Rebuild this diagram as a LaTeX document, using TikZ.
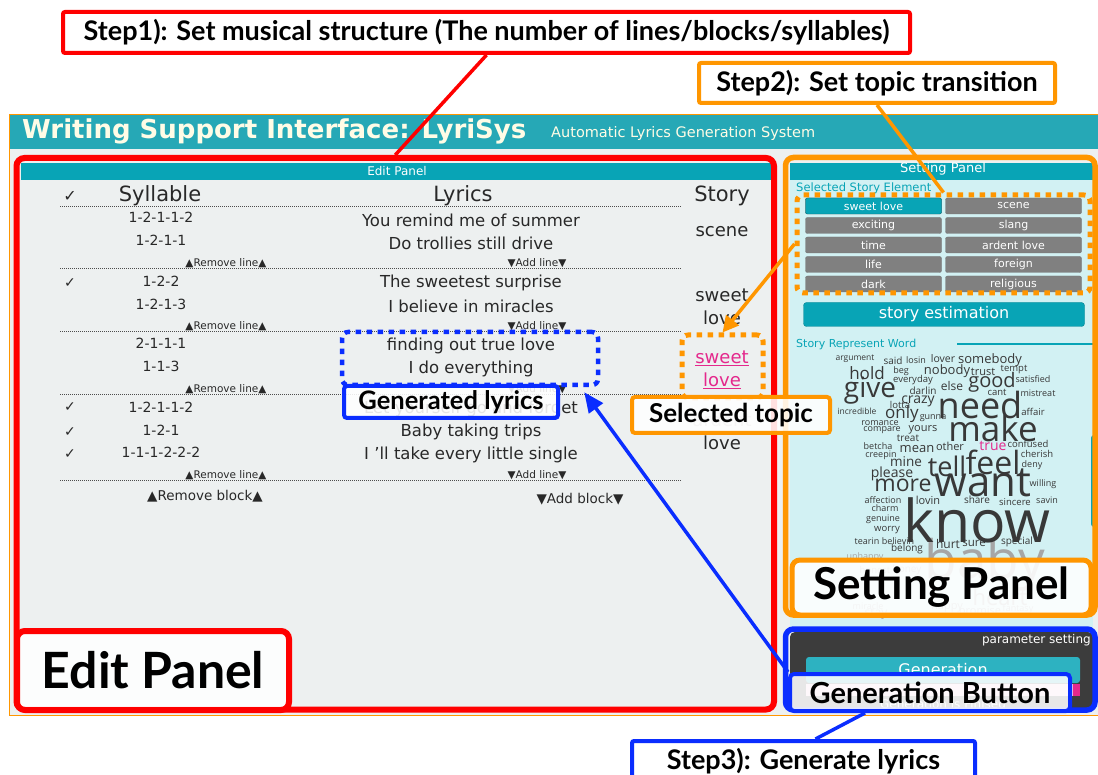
\documentclass[tikz,border=0pt]{standalone}
\usepackage{fontspec}
\usepackage{xcolor}
\usetikzlibrary{arrows.meta,positioning}
\setmainfont{DejaVu Sans}
\newfontfamily\notefont{Lato}
\newfontfamily\cloudfont{Open Sans}
\newcommand{\setfs}[1]{\fontsize{#1}{#1}\selectfont}

\definecolor{markred}{RGB}{255,0,0}
\definecolor{markorange}{RGB}{255,150,0}
\definecolor{markblue}{RGB}{10,45,255}
\definecolor{appteal}{RGB}{38,168,182}
\definecolor{panelteal}{RGB}{8,164,182}
\definecolor{panelgray}{RGB}{237,240,240}
\definecolor{panelcyan}{RGB}{210,241,243}
\definecolor{uitext}{RGB}{40,40,40}
\definecolor{btngray}{RGB}{128,128,128}
\definecolor{pinkword}{RGB}{228,40,140}
\definecolor{darkpanel}{RGB}{60,60,60}
\definecolor{titlecream}{RGB}{255,252,230}

\begin{document}
\begin{tikzpicture}[x=1pt,y=-1pt]
\tikzstyle{note} = [draw, line width=4pt, fill=white, rounded corners=2pt,
inner sep=0pt, font=\notefont\bfseries\setfs{27}]
\tikzstyle{panelbox} = [draw, line width=5.5pt, rounded corners=8pt, inner sep=0pt]
\tikzstyle{bigtag} = [draw, line width=5pt, fill=white, fill opacity=0.88,
text opacity=1, rounded corners=8pt, inner sep=0pt]
\tikzstyle{dotbox} = [draw, line width=5pt, dash pattern=on 5.5pt off 5.5pt,
rounded corners=6pt, inner sep=0pt]
\tikzstyle{ui} = [text=uitext, inner sep=0pt, font=\setfs{16.5}]
\tikzstyle{syl} = [ui, font=\setfs{14}]
\tikzstyle{smallui} = [ui, font=\setfs{10.5}]
\tikzstyle{head} = [ui, font=\setfs{21}]
\tikzstyle{storyword} = [ui, font=\setfs{18}]
\tikzstyle{tagbtn} = [draw=black!55, fill=btngray, rounded corners=2pt,
minimum width=136pt, minimum height=16pt, inner sep=0pt, text=white, font=\setfs{11}]
\tikzstyle{word} = [inner sep=0pt, text=black!78]
\tikzstyle{line} = [draw, line width=3.5pt]

\clip (0,0) rectangle (1098,775);
\fill[white] (0,0) rectangle (1098,775);

% application window
\fill[panelgray] (10,115) rectangle (1098,715);
\fill[appteal] (10,115) rectangle (1098,149);
\draw[markorange, line width=1.5pt] (9.5,114.5) rectangle (1100,715.5);
\node[anchor=west, text=titlecream, inner sep=0pt, font=\bfseries\setfs{26}] (title) at (22,131)
  {Writing Support Interface: LyriSys};
\node[anchor=west, text=titlecream, inner sep=0pt, font=\setfs{14.5}] (subtitle) at (551,134)
  {Automatic Lyrics Generation System};

% edit panel
\fill[panelteal] (21,163) rectangle (771,180);
\node[text=white, inner sep=0pt, font=\setfs{12}] (edithead) at (397,171.5) {Edit Panel};
\node[ui, font=\setfs{16}] (checkhead) at (70,196) {✓};
\node[head] (sylhead) at (160,196) {Syllable};
\node[head] (lyrhead) at (463,196) {Lyrics};
\node[head] (storyhead) at (722,196) {Story};
\foreach \y in {206,268,331,394,480}
  \draw[black!70, line width=0.8pt, dash pattern=on 1pt off 1pt] (60,\y) -- (682,\y);
\foreach \y [count=\i] in {263,326,389,475} {
  \node[smallui] (rmline\i) at (226,\y) {▲Remove line▲};
  \node[smallui] (addline\i) at (537,\y) {▼Add line▼};
}
\node[ui, font=\setfs{13.5}] (rmblock) at (205,496) {▲Remove block▲};
\node[ui, font=\setfs{13.5}] (addblock) at (580,499) {▼Add block▼};

% syllables, lyrics and checks
\foreach \y/\t [count=\i] in {217/1-2-1-1-2, 240/1-2-1-1, 281/1-2-2, 304/1-2-1-3,
  343/2-1-1-1, 366/1-1-3, 407/1-2-1-1-2, 430/1-2-1, 452/1-1-1-2-2-2}
  \node[syl] (syl\i) at (161,\y) {\t};
\foreach \y/\t [count=\i] in {220/You remind me of summer, 243/Do trollies still drive,
  283/The sweetest surprise, 306/I believe in miracles, 346/finding out true love,
  369/I do everything, 409/Let yourself go and forget, 432/Baby taking trips,
  455/I 'll take every little single}
  \node[ui] (lyr\i) at (471,\y) {\t};
\foreach \y [count=\i] in {283,407,432,454}
  \node[ui, font=\setfs{14}] (check\i) at (70,\y) {✓};

% story column
\node[storyword] (story1) at (722,232) {scene};
\node[storyword] (story2) at (722,295) {sweet};
\node[storyword] (story3) at (722,318) {love};
\node[storyword, text=pinkword] (story4) at (722,358) {\underline{sweet}};
\node[storyword, text=pinkword] (story5) at (722,381) {\underline{love}};
\node[storyword, text=black!30] (story6) at (722,420) {ardent};
\node[storyword] (story7) at (722,443) {love};

% setting panel
\fill[panelcyan] (790,180) rectangle (1093,630);
\fill[panelteal] (790,163) rectangle (1093,180);
\node[text=white, inner sep=0pt, font=\setfs{13}] (sethead) at (943,169) {Setting Panel};
\node[anchor=west, text=panelteal, inner sep=0pt, font=\setfs{11.5}] (elemhead) at (796,188)
  {Selected Story Element};
\foreach \a/\b [count=\i] in {sweet love/scene, exciting/slang, time/ardent love,
  life/foreign, dark/religious} {
  \node[tagbtn] (tagl\i) at (873.5,186.5+19.5*\i) {\a};
  \node[tagbtn] (tagr\i) at (1013.5,186.5+19.5*\i) {\b};
}
\node[tagbtn, fill=panelteal, draw=panelteal!70!black] (tagsel) at (873.5,206) {sweet love};
\node[draw=panelteal!80!black, fill=panelteal, rounded corners=3pt, minimum width=281pt,
  minimum height=24pt, inner sep=0pt, text=white, font=\setfs{16}] (estim) at (944,314.5)
  {story estimation};
\node[anchor=west, text=panelteal, inner sep=0pt, font=\setfs{11}] (wordhead) at (796,344)
  {Story Represent Word};
\draw[panelteal, line width=1.2pt] (957,344) -- (1098,344);
\fill[panelteal, rounded corners=3pt] (1091,435) rectangle (1100,527);

% word cloud
\foreach \x/\y/\s/\w [count=\i] in {985/565/53/baby, 865/557/9/unhappy, 875/570/9.5/honest,
  907/570/10/honey, 947/607/11/happy, 1000/597/22/heart, 868/606/9/miracle,
  876/614/12/stay, 980/612/11/promise, 1018/609/9/fantasy}
  \node[word, text=black!35, font=\cloudfont\setfs{\s}] (faint\i) at (\x,\y) {\w};
\foreach \x/\y/\s/\w [count=\i] in {855/359/8.5/argument, 893/361/10/said, 916/360/9/losin,
  943/359/10.5/lover, 990/360/13/somebody, 867/373/17/hold, 901/371/9/beg,
  947/371/13/nobody, 983/372/11/trust, 1014/370/9.5/tempt, 913/380/9.5/everyday,
  1033/379/9/satisfied, 870/391/28/give, 923/391/10/darlin, 952/386/12/else,
  992/382/20/good, 997/392/9.5/cant, 1038/393/9/mistreat, 980/405/36/need,
  918/401/14/crazy, 900/405/9.5/lotta, 857/411/8.5/incredible, 902/414/17/only,
  933/418/9/gunna, 1033/412/9.5/affair, 880/423/9/romance, 993/428/35/make,
  882/430/9/compare, 923/430/11/yours, 908/438/10/treat, 878/446/9/betcha,
  917/449/13/mean, 950/446/11/other, 1028/444/9.5/confused, 881/455/9/creepin,
  1037/454/9.5/cherish, 947/466/27/tell, 993/462/32/feel, 906/462/13.5/mine,
  1032/465/9/deny, 892/474/14/please, 903/485/23/more, 983/483/42/want,
  1043/484/9/willing, 883/500/9/affection, 928/500/11/lovin, 977/500/10/share,
  1015/502/9.5/sincere, 1047/500/9/savin, 885/508/9/charm, 883/519/9/genuine,
  977/520/59/know, 887/530/9.5/worry, 867/541/9/tearin, 898/541/9/believin,
  948/544/12/hurt, 974/543/11.5/sure, 1017/542/10/special, 907/549/10/belong}
  \node[word, font=\cloudfont\setfs{\s}] (w\i) at (\x,\y) {\w};
\node[word, text=pinkword, font=\cloudfont\setfs{14}] (wtrue) at (993,446) {true};

% generation panel
\fill[darkpanel, rounded corners=5pt] (790,632) rectangle (1093,708);
\node[anchor=east, text=white, inner sep=0pt, font=\setfs{12}] (param) at (1091,640)
  {parameter setting};
\fill[pinkword!25] (806,684) rectangle (1080,696);
\fill[pinkword] (1073,684) rectangle (1080,696);
\node[fill=panelteal!85!white, rounded corners=3pt, minimum width=274pt, minimum height=26pt,
  inner sep=0pt, text=white, font=\setfs{16}] (genbtn) at (943,670) {Generation};
\node[text=white, inner sep=0pt, font=\setfs{12}] (finished) at (943,704) {Generation is Finised};

% marked areas
\node[panelbox, draw=markred, line width=6pt, minimum width=757.5pt, minimum height=551.5pt]
  (editbox) at (395.25,433.75) {};
\node[panelbox, draw=markorange, minimum width=309.5pt, minimum height=457.5pt]
  (setbox) at (940.25,386.25) {};
\node[panelbox, draw=markblue, minimum width=309.5pt, minimum height=81pt]
  (genpanel) at (940.25,669.5) {};
\node[dotbox, draw=markorange, minimum width=293pt, minimum height=98pt] (elembox) at (943.5,244) {};
\node[dotbox, draw=markorange, minimum width=81pt, minimum height=63pt] (storybox) at (722.5,366.5) {};
\node[dotbox, draw=markblue, line width=4.5pt, minimum width=256pt, minimum height=53pt]
  (lyricsbox) at (470,358.5) {};

% labels on the marked areas
\node[bigtag, draw=markred, line width=6pt, minimum width=272pt, minimum height=79pt,
  font=\notefont\bfseries\setfs{50}] (editlabel) at (153,670.5) {Edit Panel};
\node[bigtag, draw=markorange, minimum width=299pt, minimum height=55pt,
  font=\notefont\bfseries\setfs{44}] (setlabel) at (941.5,587.5) {Setting Panel};
\node[bigtag, draw=markblue, line width=4pt, rounded corners=4pt, minimum width=280pt,
  minimum height=37pt, font=\notefont\bfseries\setfs{29}] (genlabel) at (930,692.5) {Generation Button};
\node[bigtag, draw=markblue, line width=4pt, rounded corners=3pt, minimum width=214pt,
  minimum height=32pt, font=\notefont\bfseries\setfs{25.5}] (lyricslabel) at (451,402) {Generated lyrics};
\node[bigtag, draw=markorange, line width=4pt, rounded corners=3pt, minimum width=198pt,
  minimum height=36pt, font=\notefont\bfseries\setfs{26}] (topiclabel) at (731,415) {Selected topic};

% steps
\node[note, draw=markred, minimum width=847pt, minimum height=41pt] (step1) at (486.5,32.5)
  {Step1): Set musical structure (The number of lines/blocks/syllables)};
\node[note, draw=markorange, minimum width=356pt, minimum height=40pt] (step2) at (877,83)
  {Step2): Set topic transition};
\node[note, draw=markblue, minimum width=343pt, minimum height=40pt, anchor=north] (step3)
  at (803.5,739) {Step3): Generate lyrics};

% connectors
\path[line, draw=markred] (step1.south) -- (editbox.north);
\path[line, draw=markorange] (step2.south) -- (elembox.north);
\path[line, draw=markorange, -{Triangle[length=16pt,width=16pt]}] (elembox.west) -- (storybox.north);
\path[line, draw=markblue, -{Triangle[length=20pt,width=17pt]}] (genlabel.north west)
  -- ([xshift=-16pt,yshift=-5pt]lyricsbox.south east);
\path[line, draw=markblue] ([xshift=12pt]step3.north) -- ([xshift=-65pt]genlabel.south);
\end{tikzpicture}
\end{document}
